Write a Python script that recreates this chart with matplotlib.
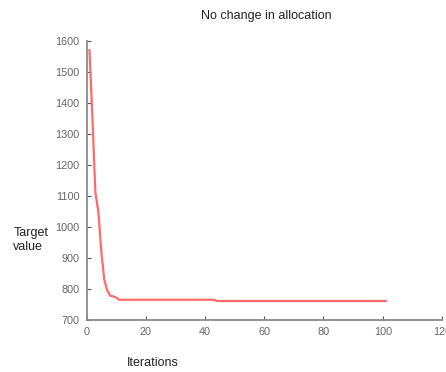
import matplotlib
matplotlib.use('Agg')
import matplotlib.pyplot as plt

plt.rcParams['font.family'] = ['Liberation Sans', 'DejaVu Sans']

# iteration number and target value at the breakpoints of the curve
iterations = [1, 2, 3, 4, 5, 6, 7, 8, 9, 10, 11, 43, 44, 101]
target = [1570, 1350, 1110, 1050, 920, 830, 795, 778, 776, 772, 765, 765, 761, 761]

x_ticks = [0, 20, 40, 60, 80, 100, 120]
y_ticks = [700, 800, 900, 1000, 1100, 1200, 1300, 1400, 1500, 1600]

fig = plt.figure(figsize=(4.46, 3.72), dpi=100)
ax = fig.add_axes([0.194, 0.14, 0.797, 0.75])

ax.plot(iterations, target, color='#ff6b6b', linewidth=1.6)

ax.set_xlim(0, 120)
ax.set_ylim(700, 1600)
ax.set_xticks(x_ticks)
ax.set_yticks(y_ticks)

for s in ['top', 'right']:
    ax.spines[s].set_visible(False)
for s in ['left', 'bottom']:
    ax.spines[s].set_color('#8a8a8a')
    ax.spines[s].set_linewidth(1.3)

ax.tick_params(direction='in', length=3, width=0.8, color='#555555',
               labelsize=7.8, labelcolor='#666666', pad=5)
ax.tick_params(axis='y', pad=5)

fig.text(0.598, 0.957, 'No change in allocation', ha='center', va='center',
         fontsize=9, color='#222222')
fig.text(0.03, 0.355, 'Target\nvalue', ha='left', va='center',
         fontsize=9, color='#222222', linespacing=1.3)
fig.text(0.285, 0.025, 'Iterations', ha='left', va='center',
         fontsize=9, color='#222222')

fig.savefig('out.png', dpi=100)
